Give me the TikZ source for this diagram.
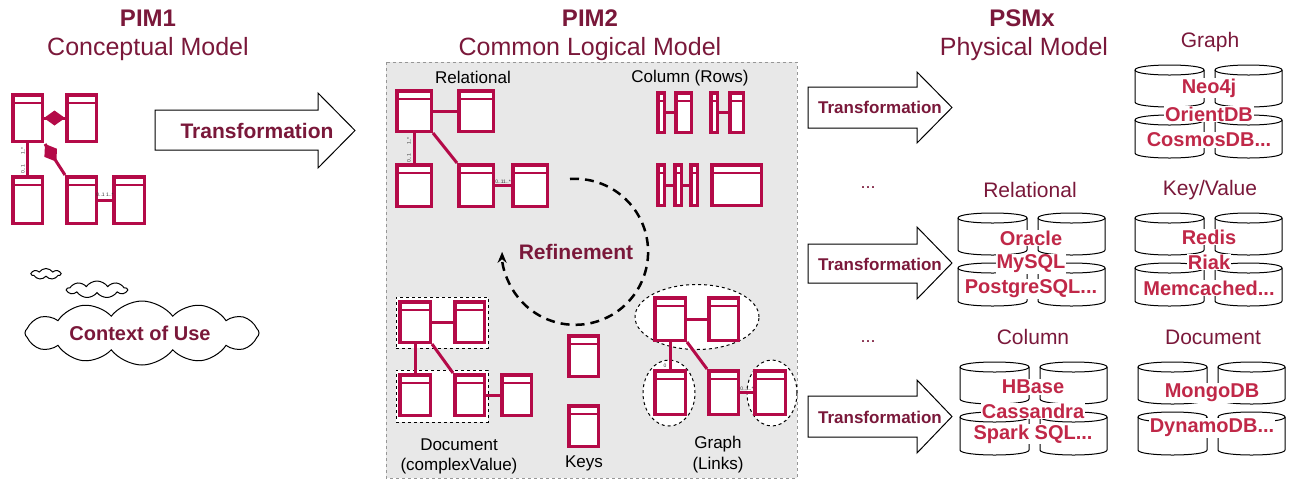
\documentclass[tikz,border=0pt]{standalone}
\usepackage{fontspec}
\setmainfont{Liberation Sans}
\usetikzlibrary{shapes.geometric,shapes.symbols,arrows.meta}
\definecolor{umlred}{RGB}{180,10,72}
\definecolor{titlered}{RGB}{122,24,58}
\definecolor{dbred}{RGB}{192,40,72}
\definecolor{panelgray}{RGB}{232,232,232}
\definecolor{panelborder}{RGB}{150,150,150}
\tikzset{
  uml/.style={draw=umlred, line width=3.5pt, fill=white, rectangle, inner sep=0pt,
    path picture={\draw[umlred,line width=2.5pt] ([yshift=-8pt]path picture bounding box.north west) -- ([yshift=-8pt]path picture bounding box.north east);}},
  conn/.style={draw=umlred, line width=3pt},
  dia/.style={diamond, fill=umlred, inner sep=0pt, outer sep=0pt, aspect=1.5, minimum width=21pt, minimum height=15pt},
  ttl/.style={font=\fontsize{24}{28}\selectfont\bfseries, text=titlered, anchor=base},
  sub/.style={font=\fontsize{25}{28}\selectfont, text=titlered, anchor=base},
  grp/.style={font=\fontsize{21}{24}\selectfont, text=titlered},
  lbl/.style={font=\fontsize{17}{20}\selectfont, text=black},
  tiny/.style={font=\fontsize{5}{5}\selectfont, text=black!80, inner sep=0pt},
  dbt/.style={font=\fontsize{20}{22}\selectfont\bfseries, text=dbred, fill=white, inner sep=1pt},
  trs/.style={font=\fontsize{17}{20}\selectfont\bfseries, text=titlered},
  trb/.style={font=\fontsize{21}{24}\selectfont\bfseries, text=titlered},
  arrowshape/.style={draw=black, line width=1pt, fill=white, line join=miter},
  cloudshape/.style={cloud, draw=black, line width=1pt, fill=white, cloud ignores aspect, inner sep=0pt},
  dashedbox/.style={draw=black, dashed, line width=1pt, fill=white, inner sep=0pt},
}
\newcommand{\umlbox}[5]{%
  \pgfmathsetmacro{\umlW}{#4-#2-3.5}\pgfmathsetmacro{\umlH}{#5-#3-3.5}%
  \node[uml, minimum width=\umlW pt, minimum height=\umlH pt] (#1) at ({(#2+#4)/2},{(#3+#5)/2}) {};}
\newcommand{\cyl}[4]{%
  \pgfmathsetmacro{\cxr}{#1+#3}\pgfmathsetmacro{\cyt}{#2+5}\pgfmathsetmacro{\cyb}{#2+#4-5}%
  \filldraw[fill=white, draw=black, line width=1pt] (#1,\cyt) -- (#1,\cyb) .. controls (#1,{\cyb+6.67}) and (\cxr,{\cyb+6.67}) .. (\cxr,\cyb) -- (\cxr,\cyt) .. controls (\cxr,{#2-1.67}) and (#1,{#2-1.67}) .. cycle;
  \draw[black, line width=1pt] (#1,\cyt) .. controls (#1,{\cyt+6.67}) and (\cxr,{\cyt+6.67}) .. (\cxr,\cyt);}
\newcommand{\dbgroup}[3]{% left x, top y of top row, top y of bottom row
  \cyl{#1}{#2}{69}{42}\cyl{#1+80}{#2}{67}{42}\cyl{#1}{#3}{69}{43}\cyl{#1+80}{#3}{67}{43}}
\begin{document}
\begin{tikzpicture}[x=1pt,y=-1pt]
\useasboundingbox (0,0) rectangle (1294,480);

% ---------- titles ----------
\node[ttl] (t1) at (148,26) {PIM1};
\node[sub] (s1) at (148,55) {Conceptual Model};
\node[ttl] (t2) at (590,26) {PIM2};
\node[sub] (s2) at (590,55) {Common Logical Model};
\node[ttl] (t3) at (1022,26) {PSMx};
\node[sub] (s3) at (1024,55) {Physical Model};

% ---------- PIM1 ----------
\umlbox{pA}{11}{93}{44}{143}
\umlbox{pB}{65}{93}{98}{143}
\umlbox{pC}{11}{175}{44}{225}
\umlbox{pD}{65}{175}{98}{225}
\umlbox{pE}{112}{175}{146}{225}
\draw[conn] (pA.east) -- node[dia, pos=0, anchor=west] (dA) {} (pB.west);
\draw[conn] (pA.south) -- (pC.north);
\draw[conn] ([shift={(1,1)}]pA.south east) -- node[dia, pos=0, sloped, anchor=west] (dB) {} (pD.north west);
\draw[conn] (pD.east) -- (pE.west);
\node[tiny, rotate=90] (l1) at (23,151) {1..*};
\node[tiny, rotate=90] (l2) at (23,169) {0..1};
\node[tiny] (l3) at (105,195) {0..1 1..*};

% clouds
\node[cloudshape, cloud puffs=7, cloud puff arc=110, minimum width=29pt, minimum height=11pt] (c3) at (46,274) {};
\node[cloudshape, cloud puffs=9, cloud puff arc=110, minimum width=60pt, minimum height=17pt] (c2) at (97,289.5) {};
\node[cloudshape, cloud puffs=12, cloud puff arc=105, minimum width=234pt, minimum height=64pt] (c1) at (142,333) {};
\node[trb, font=\fontsize{20}{24}\selectfont\bfseries] (ctx) at (140,333) {Context of Use};

% big transformation arrow
\draw[arrowshape] (155,110) -- (318,110) -- (318,93) -- (355,130.5) -- (318,168) -- (318,150) -- (155,150) -- cycle;
\node[trb] (tr0) at (257,130.5) {Transformation};

% ---------- PIM2 panel ----------
\draw[fill=panelgray, draw=panelborder, dashed, line width=1pt] (386,62) rectangle (797,478);

\node[lbl] (relT) at (473,77) {Relational};
\node[lbl] (colT) at (690,78) {Column (Rows)};

% relational
\umlbox{r1}{395}{89}{433}{133}
\umlbox{r2}{457}{89}{495}{133}
\umlbox{r3}{395}{163}{433}{208}
\umlbox{r4}{457}{163}{495}{208}
\umlbox{r5}{511}{163}{549}{208}
\draw[conn] (r1.east) -- (r2.west);
\draw[conn] (r1.south) -- (r3.north);
\draw[conn] (r1.south east) -- (r4.north west);
\draw[conn] (r4.east) -- (r5.west);
\node[tiny, rotate=90] (l4) at (409,141) {1..*};
\node[tiny, rotate=90] (l5) at (409,158) {0..1};
\node[tiny] (l6) at (503,182) {0..11..*};

% column (rows)
\umlbox{c1a}{656}{91}{666}{134}
\umlbox{c1b}{674}{91}{693}{134}
\draw[conn] (c1a.east) -- (c1b.west);
\umlbox{c2a}{709}{91}{719}{134}
\umlbox{c2b}{728}{91}{745}{134}
\draw[conn] (c2a.east) -- (c2b.west);
\umlbox{c3a}{656}{163}{666}{207}
\umlbox{c3b}{673}{163}{683}{207}
\umlbox{c3c}{689}{163}{699}{207}
\draw[conn] (c3a.east) -- (c3b.west);
\draw[conn] (c3b.east) -- (c3c.west);
\umlbox{c4}{710}{163}{763}{207}

% refinement
\draw[line width=2.5pt, dash pattern=on 9pt off 6pt, -{Stealth[length=11pt,width=9pt]}] (570,179) arc[start angle=94, end angle=-180, radius=73pt];
\node[trb] (ref) at (576,252) {Refinement};

% document
\node[dashedbox, minimum width=92pt, minimum height=51pt] (dr1) at (442,322.5) {};
\node[dashedbox, minimum width=92pt, minimum height=52pt] (dr2) at (442,396) {};
\umlbox{d1}{398}{300}{432}{344}
\umlbox{d2}{453}{300}{486}{344}
\umlbox{d3}{398}{373}{432}{417}
\umlbox{d4}{453}{373}{486}{417}
\umlbox{d5}{500}{373}{533}{417}
\draw[conn] (d1.east) -- (d2.west);
\draw[conn] (d1.south) -- (d3.north);
\draw[conn] (d1.south east) -- (d4.north west);
\draw[conn] (d4.east) -- (d5.west);
\node[lbl] (docT1) at (459,445) {Document};
\node[lbl] (docT2) at (459,466) {(complexValue)};

% keys
\umlbox{k1}{567}{334}{600}{378}
\umlbox{k2}{567}{404}{600}{448}
\node[lbl] (keyT) at (584,463) {Keys};

% graph
\node[dashedbox, ellipse, minimum width=124pt, minimum height=65pt] (e1) at (697,317) {};
\node[dashedbox, ellipse, minimum width=52pt, minimum height=66pt] (e2) at (669,393) {};
\node[dashedbox, ellipse, minimum width=50pt, minimum height=66pt] (e3) at (772,393) {};
\umlbox{g1}{653}{296}{687}{342}
\umlbox{g2}{707}{296}{740}{342}
\umlbox{g3}{653}{369}{687}{416}
\umlbox{g4}{707}{369}{740}{416}
\umlbox{g5}{753}{369}{787}{416}
\draw[conn] (g1.east) -- (g2.west);
\draw[conn] (g1.south) -- (g3.north);
\draw[conn] (g1.south east) -- (g4.north west);
\draw[conn] (g4.east) -- (g5.west);
\node[tiny] (l7) at (665,366) {0};
\node[tiny] (l8) at (747,389) {0..1..*};
\node[lbl] (grT1) at (718,444) {Graph};
\node[lbl] (grT2) at (718,465) {(Links)};

% ---------- small transformation arrows ----------
\draw[arrowshape] (808,87) -- (917,87) -- (917,72) -- (952,107.5) -- (917,143) -- (917,128) -- (808,128) -- cycle;
\node[trs] (tr1) at (880,107.5) {Transformation};
\draw[arrowshape] (808,244) -- (917,244) -- (917,227) -- (952,263) -- (917,299) -- (917,283) -- (808,283) -- cycle;
\node[trs] (tr2) at (880,264) {Transformation};
\draw[arrowshape] (808,396) -- (917,396) -- (917,380) -- (952,416.5) -- (917,453) -- (917,437) -- (808,437) -- cycle;
\node[trs] (tr3) at (880,417) {Transformation};
\node[grp, font=\fontsize{18}{20}\selectfont] (dots1) at (868,188) {...};
\node[grp, font=\fontsize{18}{20}\selectfont] (dots2) at (868,342) {...};

% ---------- database groups ----------
\node[grp] (gGraph) at (1210,42) {Graph};
\dbgroup{1135}{65}{115}
\node[dbt] (n1) at (1209,88) {Neo4j};
\node[dbt] (n2) at (1209,114) {OrientDB};
\node[dbt] (n3) at (1209,140) {CosmosDB...};

\node[grp] (gRel) at (1030,190) {Relational};
\dbgroup{958}{213}{263}
\node[dbt] (n4) at (1031,238) {Oracle};
\node[dbt] (n5) at (1031,264) {MySQL};
\node[dbt] (n6) at (1031,289) {PostgreSQL...};

\node[grp] (gKV) at (1210,190) {Key/Value};
\dbgroup{1135}{213}{263}
\node[dbt] (n7) at (1209,237) {Redis};
\node[dbt] (n8) at (1209,262) {Riak};
\node[dbt] (n9) at (1209,288) {Memcached...};

\node[grp] (gCol) at (1033,337) {Column};
\dbgroup{960}{362}{412}
\node[dbt] (n10) at (1033,387) {HBase};
\node[dbt] (n11) at (1033,411) {Cassandra};
\node[dbt] (n12) at (1033,434) {Spark SQL...};

\node[grp] (gDoc) at (1213,337) {Document};
\dbgroup{1138}{362}{412}
\node[dbt] (n13) at (1212,393) {MongoDB};
\node[dbt] (n14) at (1212,428) {DynamoDB...};
\end{tikzpicture}
\end{document}
